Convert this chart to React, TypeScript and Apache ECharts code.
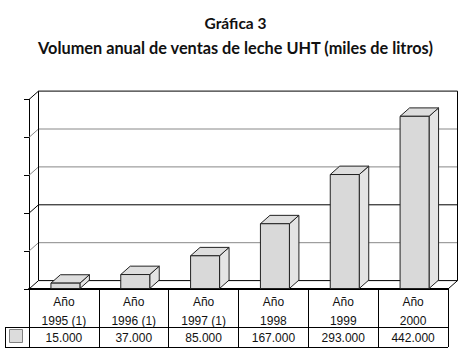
import React, { useEffect, useRef } from "react";
import * as echarts from "echarts";

const YEARS = ["1995 (1)", "1996 (1)", "1997 (1)", "1998", "1999", "2000"];
const VALUES = [15000, 37000, 85000, 167000, 293000, 442000];
const TITLE = "Gráfica 3";
const SUBTITLE = "Volumen anual de ventas de leche UHT (miles de litros)";
const Y_MAX = 485000;
const Y_INTERVAL = 97000;

const DX = 9.5;
const DY = -8.4;
const FRONT = "#d9d9d9";
const TOP = "#dedede";
const SIDE = "#e4e4e4";
const EDGE = "#222";
const WALL_COLORS = ["#000", "#888", "#000", "#888", "#888", "#000"];

const fmt = (v: number) => String(v).replace(/\B(?=(\d{3})+(?!\d))/g, ".");

export default function App() {
  const ref = useRef<HTMLDivElement>(null);
  useEffect(() => {
    document.body.style.margin = "0";
    const chart = echarts.init(ref.current!, undefined, { renderer: "svg" });
    const ticks: number[] = [];
    for (let t = 0; t <= Y_MAX + 1; t += Y_INTERVAL) ticks.push(t);
    const font = "'Liberation Sans', Arial, sans-serif";
    chart.setOption({
      animation: false,
      title: [
        {
          text: TITLE,
          left: "center",
          top: 10,
          textStyle: { fontFamily: "Lato", fontWeight: "bold", fontSize: 15.5, color: "#111" },
        },
        {
          text: SUBTITLE,
          left: "center",
          top: 34,
          textStyle: { fontFamily: "Lato", fontWeight: "bold", fontSize: 16.3, color: "#111" },
        },
      ],
      grid: { left: 29, right: 23, top: 99.5, bottom: 67, containLabel: false },
      xAxis: [
        {
          type: "category",
          data: YEARS.map((y) => "Año\n" + y),
          boundaryGap: true,
          axisLine: { show: true, lineStyle: { color: "#000", width: 2 } },
          axisTick: { show: true, length: 58, interval: 0, lineStyle: { color: "#000", width: 1 } },
          axisLabel: {
            interval: 0,
            margin: 3,
            lineHeight: 19,
            fontSize: 12,
            fontFamily: font,
            color: "#111",
          },
          splitLine: { show: false },
        },
        {
          type: "category",
          position: "bottom",
          offset: 38,
          data: VALUES.map(fmt),
          axisLine: { show: false },
          axisTick: { show: false },
          axisLabel: { interval: 0, margin: 5, fontSize: 12, fontFamily: font, color: "#111" },
        },
      ],
      yAxis: {
        type: "value",
        min: 0,
        max: Y_MAX,
        interval: Y_INTERVAL,
        axisLine: { show: true, lineStyle: { color: "#000", width: 1 } },
        axisTick: { show: true, inside: false, length: 5, lineStyle: { color: "#000" } },
        axisLabel: { show: false },
        splitLine: { show: false },
      },
      series: [
        {
          type: "custom",
          name: "frame",
          clip: false,
          z: 1,
          silent: true,
          data: [[0, 0]],
          encode: { x: 0, y: 1 },
          renderItem: (params: any, api: any) => {
            const cs = params.coordSys;
            const x0 = cs.x;
            const x1 = cs.x + cs.width;
            const children: any[] = [];
            ticks.forEach((t, i) => {
              const y = api.coord([0, t])[1];
              const c = WALL_COLORS[i % WALL_COLORS.length];
              children.push({
                type: "line",
                shape: { x1: x0 + DX, y1: y + DY, x2: x1 + DX, y2: y + DY },
                style: { stroke: c, lineWidth: 1 },
              });
              children.push({
                type: "line",
                shape: { x1: x0, y1: y, x2: x0 + DX, y2: y + DY },
                style: { stroke: c, lineWidth: 1 },
              });
            });
            const yb = api.coord([0, 0])[1];
            const yt = api.coord([0, Y_MAX])[1];
            children.push({
              type: "line",
              shape: { x1: x0 + DX, y1: yb + DY, x2: x0 + DX, y2: yt + DY },
              style: { stroke: "#000", lineWidth: 1 },
            });
            children.push({
              type: "line",
              shape: { x1: x1 + DX, y1: yb + DY, x2: x1 + DX, y2: yt + DY },
              style: { stroke: "#000", lineWidth: 1 },
            });
            children.push({
              type: "line",
              shape: { x1: x1, y1: yb, x2: x1 + DX, y2: yb + DY },
              style: { stroke: "#000", lineWidth: 1 },
            });
            return { type: "group", children };
          },
        },
        {
          type: "custom",
          name: "ventas",
          clip: false,
          z: 2,
          data: VALUES.map((v, i) => [i, v]),
          encode: { x: 0, y: 1 },
          renderItem: (params: any, api: any) => {
            const idx = api.value(0);
            const v = api.value(1);
            const top = api.coord([idx, v]);
            const base = api.coord([idx, 0]);
            const cw = api.size([1, 0])[0];
            const w = cw * 0.415;
            const cx = top[0] + 1.5;
            const x0 = cx - w / 2;
            const x1 = cx + w / 2;
            const yt = top[1];
            const yb = base[1] - 0.5;
            return {
              type: "group",
              children: [
                {
                  type: "polygon",
                  shape: { points: [[x1, yt], [x1 + DX, yt + DY], [x1 + DX, yb + DY], [x1, yb]] },
                  style: { fill: SIDE, stroke: EDGE, lineWidth: 1 },
                },
                {
                  type: "polygon",
                  shape: { points: [[x0, yt], [x0 + DX, yt + DY], [x1 + DX, yt + DY], [x1, yt]] },
                  style: { fill: TOP, stroke: EDGE, lineWidth: 1 },
                },
                {
                  type: "rect",
                  shape: { x: x0, y: yt, width: w, height: yb - yt },
                  style: { fill: FRONT, stroke: EDGE, lineWidth: 1 },
                },
              ],
            };
          },
        },
      ],
      graphic: [
        { type: "line", shape: { x1: 5, y1: 327.5, x2: 448, y2: 327.5 }, style: { stroke: "#000", lineWidth: 1 } },
        { type: "line", shape: { x1: 5, y1: 347.5, x2: 448, y2: 347.5 }, style: { stroke: "#000", lineWidth: 1 } },
        { type: "line", shape: { x1: 5.5, y1: 327.5, x2: 5.5, y2: 347.5 }, style: { stroke: "#000", lineWidth: 1 } },
        { type: "rect", shape: { x: 9.5, y: 329.5, width: 13, height: 13 }, style: { fill: "#dcdcdc", stroke: "#808080", lineWidth: 1 } },
      ],
    });
    return () => chart.dispose();
  }, []);
  return <div ref={ref} style={{ position: "absolute", left: 0, top: 0, width: 471, height: 356 }} />;
}
